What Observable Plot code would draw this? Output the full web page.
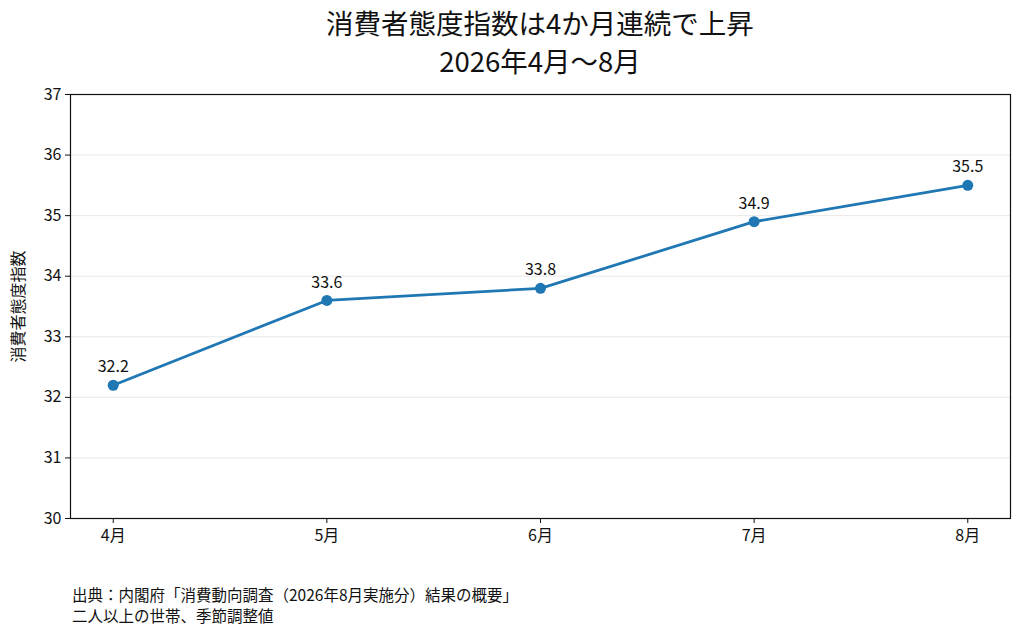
<!DOCTYPE html>
<html><head><meta charset="utf-8">
<script src="https://cdn.jsdelivr.net/npm/d3@7"></script>
<script src="https://cdn.jsdelivr.net/npm/@observablehq/plot@0.6"></script>
<style>
body{margin:0;background:#fff;font-family:"Noto Sans CJK JP","Noto Sans",sans-serif;color:#111;}
#wrap{position:relative;width:1024px;height:637px;overflow:hidden;}
.t{position:absolute;left:70px;width:940px;text-align:center;font-size:27.5px;line-height:27.5px;white-space:nowrap;}
#chart{position:absolute;top:82px;left:0;}
.c{position:absolute;left:72px;font-size:15.5px;line-height:15.5px;white-space:nowrap;}
</style></head>
<body><div id="wrap">
<div class="t" style="top:8.75px">消費者態度指数は4か月連続で上昇</div>
<div class="t" style="top:46.75px">2026年4月〜8月</div>
<div id="chart"></div>
<div class="c" style="top:586.75px">出典：内閣府「消費動向調査（2026年8月実施分）結果の概要」</div>
<div class="c" style="top:607.75px">二人以上の世帯、季節調整値</div>
</div>
<script>
const months = ["4月","5月","6月","7月","8月"];
const values = [32.2, 33.6, 33.8, 34.9, 35.5];
const yTicks = [30, 31, 32, 33, 34, 35, 36, 37];
const yLabel = "消費者態度指数";

const data = months.map((m, i) => ({i, m, v: values[i]}));
const idx = months.map((m, i) => i);

const chart = Plot.plot({
  width: 1024, height: 476,
  marginLeft: 70, marginRight: 14, marginTop: 12, marginBottom: 40,
  style: {fontFamily: '"Noto Sans CJK JP","Noto Sans",sans-serif', fontSize: "16px", color: "#111", background: "#fff"},
  x: {domain: [-0.2, 4.2], axis: null},
  y: {domain: [30, 37], axis: null},
  marks: [
    Plot.gridY(yTicks, {stroke: "#e8e8e8", strokeOpacity: 1, strokeWidth: 1}),
    Plot.axisY(yTicks, {tickSize: 5, tickPadding: 4, stroke: "#111", tickFormat: d => String(d), label: yLabel, labelAnchor: "center", labelArrow: "none", labelOffset: 58, fontSize: 16}),
    Plot.axisX(idx, {tickSize: 5, tickPadding: 6, stroke: "#111", tickFormat: i => months[i], label: null, fontSize: 16}),
    Plot.frame({stroke: "#111", strokeWidth: 1.2}),
    Plot.line(data, {x: "i", y: "v", stroke: "#1f77b4", strokeWidth: 2.8}),
    Plot.dot(data, {x: "i", y: "v", r: 5.5, fill: "#1f77b4", stroke: "none"}),
    Plot.text(data, {x: "i", y: "v", text: d => d.v.toFixed(1), dy: -18, fontSize: 16, fill: "#111"})
  ]
});
document.getElementById("chart").append(chart);
</script>
</body></html>
